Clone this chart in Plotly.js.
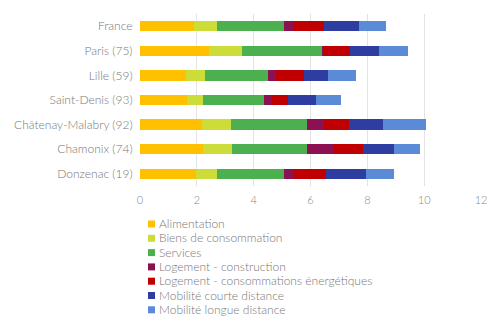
<!DOCTYPE html>
<html><head><meta charset="utf-8">
<script src="https://cdn.plot.ly/plotly-3.0.1.min.js"></script>
<style>html,body{margin:0;padding:0;background:#fff}</style>
</head><body><div id="chart" style="width:500px;height:326px"></div>
<script>
const categories = ["France","Paris (75)","Lille (59)","Saint-Denis (93)","Châtenay-Malabry (92)","Chamonix (74)","Donzenac (19)"];
const seriesNames = ["Alimentation","Biens de consommation","Services","Logement - construction","Logement - consommations énergétiques","Mobilité courte distance","Mobilité longue distance"];
const alimentation = [1.91, 2.43, 1.62, 1.65, 2.18, 2.21, 1.97];
const biens = [0.80, 1.16, 0.68, 0.58, 1.02, 1.02, 0.75];
const services = [2.36, 2.80, 2.21, 2.14, 2.66, 2.65, 2.33];
const logConstruction = [0.35, 0.04, 0.27, 0.28, 0.63, 0.93, 0.38];
const logEnergie = [1.07, 0.96, 0.98, 0.56, 0.88, 1.02, 1.12];
const mobCourte = [1.22, 1.01, 0.86, 0.99, 1.19, 1.11, 1.40];
const mobLongue = [0.93, 1.03, 0.97, 0.88, 1.49, 0.91, 0.98];
const colors = ["#FFC000","#CCDD3A","#4CAF50","#8B1152","#C00000","#2E3DA0","#5B8AD6"];
const values = [alimentation, biens, services, logConstruction, logEnergie, mobCourte, mobLongue];

const traces = values.map((v, i) => ({
  type: "bar", orientation: "h", name: seriesNames[i],
  x: v, y: categories, marker: {color: colors[i], line: {width: 0}},
  hoverinfo: "none", showlegend: false
}));

const fam = "Lato, 'Open Sans', sans-serif";
const plotLeft = 140, plotW = 341, plotTop = 14, plotH = 172;
const px2x = p => (p - plotLeft) / plotW;
const px2y = p => (plotTop + plotH - p) / plotH;
const legendAnns = [], legendShapes = [];
seriesNames.forEach((n, i) => {
  const rowPx = 223.5 + i * 14.3;
  legendAnns.push({
    xref: "paper", yref: "paper", x: px2x(156.5), y: px2y(rowPx),
    xanchor: "left", yanchor: "middle", align: "left", showarrow: false,
    text: n, font: {family: fam, size: 12, color: "#777", weight: 300}
  });
  legendShapes.push({
    type: "rect", xref: "paper", yref: "paper", layer: "above",
    x0: px2x(148), x1: px2x(155), y0: px2y(rowPx - 3), y1: px2y(rowPx + 4),
    fillcolor: colors[i], line: {width: 0}
  });
});

Plotly.newPlot("chart", traces, {
  width: 500, height: 326,
  barmode: "stack", bargap: 0.58,
  margin: {l: plotLeft, r: 500 - plotLeft - plotW, t: plotTop, b: 326 - plotTop - plotH},
  paper_bgcolor: "#fff", plot_bgcolor: "#fff",
  font: {family: fam, color: "#777", size: 11, weight: 300},
  xaxis: {range: [0, 12], dtick: 2, showgrid: true, gridcolor: "#e3e3e3", gridwidth: 1,
          zeroline: false, showline: false, ticks: "", ticklabelstandoff: 6,
          tickfont: {size: 11, color: "#888", weight: 300}, fixedrange: true},
  yaxis: {autorange: "reversed", showgrid: false, zeroline: false, ticks: "", ticksuffix: "  ",
          tickfont: {size: 12, color: "#777", weight: 300}, fixedrange: true},
  showlegend: false,
  annotations: legendAnns,
  shapes: legendShapes
}, {displayModeBar: false, staticPlot: true});
</script></body></html>
